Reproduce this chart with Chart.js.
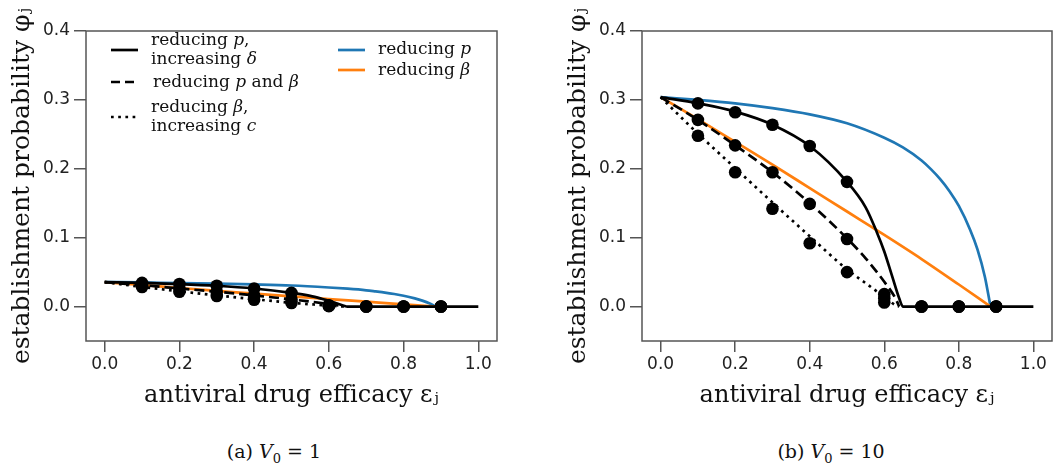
<!DOCTYPE html>
<html>
<head>
<meta charset="utf-8">
<script src="https://cdn.jsdelivr.net/npm/chart.js@4.4.1/dist/chart.umd.min.js"></script>
<style>
  body { margin: 0; background: #fff; width: 1059px; height: 473px; position: relative; overflow: hidden; font-family: "DejaVu Serif", serif; color: #111; }
  .panel { position: absolute; top: 0; height: 420px; }
  #panelA { left: 0; width: 530px; }
  #panelB { left: 530px; width: 529px; }
  .caption { position: absolute; top: 440px; width: 200px; text-align: center; font-size: 19px; line-height: 22px; }
  .caption sub { font-size: 13px; }
  .lg-text { position: absolute; font-size: 17px; line-height: 18.5px; white-space: nowrap; }
  .lg-line { position: absolute; width: 28px; height: 8px; }
</style>
</head>
<body>
<div class="panel" id="panelA"><canvas id="chartA" width="530" height="420"></canvas></div>
<div class="panel" id="panelB"><canvas id="chartB" width="529" height="420"></canvas></div>

<!-- legend (left panel) -->
<svg class="lg-line" style="left:111px;top:46px"><line x1="0" y1="4" x2="27" y2="4" stroke="#000" stroke-width="2.7"/></svg>
<div class="lg-text" style="left:151px;top:30px">reducing <i>p</i>,<br>increasing <i>δ</i></div>
<svg class="lg-line" style="left:111px;top:78px"><line x1="0" y1="4" x2="27" y2="4" stroke="#000" stroke-width="2.7" stroke-dasharray="9 5"/></svg>
<div class="lg-text" style="left:153px;top:72px">reducing <i>p</i> and <i>β</i></div>
<svg class="lg-line" style="left:111px;top:113px"><line x1="0" y1="4" x2="27" y2="4" stroke="#000" stroke-width="2.7" stroke-dasharray="2.7 4.5"/></svg>
<div class="lg-text" style="left:151px;top:97px">reducing <i>β</i>,<br>increasing <i>c</i></div>
<svg class="lg-line" style="left:338px;top:46px"><line x1="0" y1="4" x2="27" y2="4" stroke="#1f77b4" stroke-width="2.7"/></svg>
<div class="lg-text" style="left:378px;top:39px">reducing <i>p</i></div>
<svg class="lg-line" style="left:338px;top:66px"><line x1="0" y1="4" x2="27" y2="4" stroke="#ff7f0e" stroke-width="2.7"/></svg>
<div class="lg-text" style="left:378px;top:60px">reducing <i>β</i></div>

<div class="caption" style="left:174px">(a) <i>V</i><sub>0</sub> = 1</div>
<div class="caption" style="left:731px">(b) <i>V</i><sub>0</sub> = 10</div>

<script>
// ticks
const xTicks = [0, 0.2, 0.4, 0.6, 0.8, 1.0];
const yTicks = [0, 0.1, 0.2, 0.3, 0.4];

// reducing p (blue)
const epsBlue = [0, 0.1, 0.2, 0.3, 0.4, 0.5, 0.6, 0.65, 0.7, 0.725, 0.75, 0.775, 0.8, 0.83, 0.85, 0.87, 0.885];
const blueV1 = [0.0355, 0.035, 0.0339, 0.0334, 0.0322, 0.0306, 0.0277, 0.0259, 0.0236, 0.022, 0.0203, 0.0182, 0.0157, 0.0118, 0.0086, 0.0044, 0];
const blueV10 = [0.304, 0.300, 0.295, 0.288, 0.279, 0.266, 0.245, 0.231, 0.212, 0.1995, 0.185, 0.1675, 0.146, 0.112, 0.083, 0.043, 0];

// reducing beta (orange)
const epsOrange = [0, 0.1, 0.2, 0.3, 0.4, 0.5, 0.6, 0.7, 0.8, 0.885];
const orangeV1 = [0.0355, 0.0313, 0.0269, 0.0228, 0.0187, 0.0147, 0.0109, 0.0071, 0.0033, 0];
const orangeV10 = [0.304, 0.272, 0.239, 0.206, 0.172, 0.138, 0.104, 0.069, 0.032, 0];

// reducing p, increasing delta (solid)
const epsSolid = [0, 0.1, 0.2, 0.3, 0.4, 0.5, 0.55, 0.58, 0.6, 0.62, 0.64, 0.65, 1.0];
const solidV1 = [0.0355, 0.0344, 0.0327, 0.0302, 0.0262, 0.0198, 0.0154, 0.0114, 0.0083, 0.0047, 0.0012, 0, 0];
const solidV10 = [0.304, 0.295, 0.283, 0.264, 0.233, 0.181, 0.144, 0.108, 0.08, 0.046, 0.012, 0, 0];

// reducing p and beta (dashed)
const epsDashed = [0, 0.1, 0.2, 0.3, 0.4, 0.5, 0.55, 0.6, 0.63, 0.64];
const dashedV1 = [0.0355, 0.0311, 0.0263, 0.0215, 0.0161, 0.0104, 0.0072, 0.0037, 0.0012, 0];
const dashedV10 = [0.304, 0.271, 0.234, 0.195, 0.15, 0.099, 0.07, 0.036, 0.012, 0];

// reducing beta, increasing c (dotted)
const epsDotted = [0, 0.1, 0.2, 0.3, 0.4, 0.5, 0.56, 0.6, 0.63, 0.64];
const dottedV1 = [0.0355, 0.0285, 0.0222, 0.0162, 0.0107, 0.0055, 0.003, 0.0014, 0.0002, 0];
const dottedV10 = [0.304, 0.251, 0.201, 0.151, 0.102, 0.054, 0.03, 0.014, 0.002, 0];

// simulation points
const epsPts = [0.1, 0.2, 0.3, 0.4, 0.5, 0.6, 0.7, 0.8, 0.9];
const solidPtsV1 = [0.0344, 0.0327, 0.0302, 0.0262, 0.0198, 0.0018, 0, 0, 0];
const dashedPtsV1 = [0.0311, 0.0263, 0.0215, 0.0161, 0.0104, 0.0012, 0, 0, 0];
const dottedPtsV1 = [0.0284, 0.0215, 0.0153, 0.0098, 0.0051, 0.0006, 0, 0, 0];
const solidPtsV10 = [0.295, 0.282, 0.264, 0.233, 0.181, 0.018, 0, 0, 0];
const dashedPtsV10 = [0.271, 0.234, 0.195, 0.149, 0.098, 0.012, 0, 0, 0];
const dottedPtsV10 = [0.248, 0.195, 0.142, 0.092, 0.05, 0.006, 0, 0, 0];

const BLUE = "#1f77b4";
const ORANGE = "#ff7f0e";
const AXIS = "#555";

function pairs(xs, ys) {
  return xs.map((x, i) => ({ x: x, y: ys[i] }));
}

function curve(xs, ys, color, dash, order) {
  return {
    data: pairs(xs, ys),
    showLine: true,
    borderColor: color,
    borderWidth: 2.7,
    borderDash: dash,
    pointRadius: 0,
    cubicInterpolationMode: "monotone",
    order: order,
  };
}

function dots(ys) {
  return {
    data: pairs(epsPts, ys),
    showLine: false,
    pointRadius: 6.3,
    pointBackgroundColor: "#000",
    pointBorderWidth: 0,
    order: 0,
  };
}

// frame around plot area
const boxPlugin = {
  id: "box",
  afterDraw(chart) {
    const { ctx, chartArea: a } = chart;
    ctx.save();
    ctx.strokeStyle = AXIS;
    ctx.lineWidth = 1.5;
    ctx.strokeRect(a.left, a.top, a.right - a.left, a.bottom - a.top);
    ctx.restore();
  },
};

function makeChart(id, padLeft, padRight, sets) {
  const ctx = document.getElementById(id);
  return new Chart(ctx, {
    type: "scatter",
    data: {
      datasets: [
        curve(sets.epsSolid, sets.solid, "#000", [], 1),
        curve(sets.epsDashed, sets.dashed, "#000", [10, 5], 1),
        curve(sets.epsDotted, sets.dotted, "#000", [2.7, 4.5], 1),
        curve(sets.epsOrange, sets.orange, ORANGE, [], 2),
        curve(sets.epsBlue, sets.blue, BLUE, [], 3),
        dots(sets.solidPts),
        dots(sets.dashedPts),
        dots(sets.dottedPts),
      ],
    },
    options: {
      responsive: false,
      animation: false,
      layout: {
        padding: { left: padLeft, right: padRight, top: 31, bottom: 0 },
      },
      plugins: {
        legend: { display: false },
        tooltip: { enabled: false },
      },
      scales: {
        x: {
          type: "linear",
          min: -0.05,
          max: 1.05,
          afterBuildTicks: (s) => { s.ticks = xTicks.map((v) => ({ value: v })); },
          afterFit: (s) => { s.height = 79; },
          ticks: {
            padding: 2,
            color: "#222",
            font: { family: "DejaVu Sans", size: 17 },
            callback: (v) => v.toFixed(1),
          },
          grid: { drawOnChartArea: false, drawTicks: true, tickLength: 11, color: AXIS, lineWidth: 1.5 },
          border: { display: false },
          title: {
            display: true,
            text: "antiviral drug efficacy εⱼ",
            color: "#111",
            font: { family: "DejaVu Serif", size: 24 },
            padding: { top: 0, bottom: 10 },
          },
        },
        y: {
          type: "linear",
          min: -0.05,
          max: 0.4,
          afterBuildTicks: (s) => { s.ticks = yTicks.map((v) => ({ value: v })); },
          afterFit: (s) => { s.width = 86; },
          ticks: {
            padding: 4,
            color: "#222",
            font: { family: "DejaVu Sans", size: 17 },
            callback: (v) => v.toFixed(1),
          },
          grid: { drawOnChartArea: false, drawTicks: true, tickLength: 12, color: AXIS, lineWidth: 1.5 },
          border: { display: false },
          title: {
            display: true,
            text: "establishment probability φⱼ",
            color: "#111",
            font: { family: "DejaVu Serif", size: 25 },
            padding: { top: 7, bottom: 0 },
          },
        },
      },
    },
    plugins: [boxPlugin],
  });
}

// chart (a) V0 = 1
makeChart("chartA", 0, 33, {
  epsSolid, epsDashed, epsDotted, epsOrange, epsBlue,
  solid: solidV1, dashed: dashedV1, dotted: dottedV1, orange: orangeV1, blue: blueV1,
  solidPts: solidPtsV1, dashedPts: dashedPtsV1, dottedPts: dottedPtsV1,
});

// chart (b) V0 = 10
makeChart("chartB", 26, 7, {
  epsSolid, epsDashed, epsDotted, epsOrange, epsBlue,
  solid: solidV10, dashed: dashedV10, dotted: dottedV10, orange: orangeV10, blue: blueV10,
  solidPts: solidPtsV10, dashedPts: dashedPtsV10, dottedPts: dottedPtsV10,
});
</script>
</body>
</html>
